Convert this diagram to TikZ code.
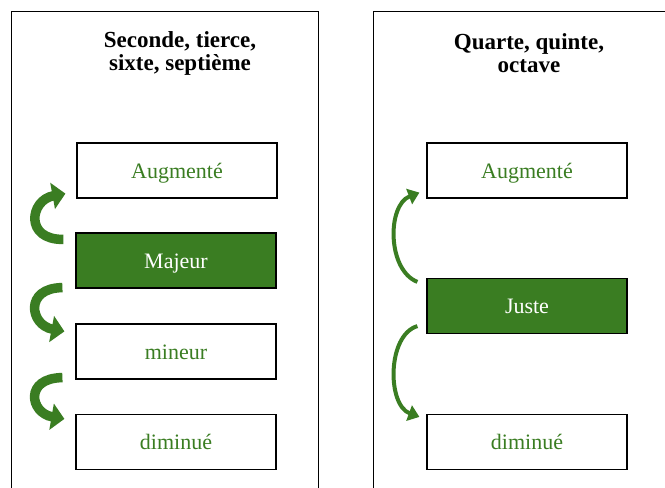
\documentclass[tikz,border=0pt]{standalone}
\usepackage{fontspec}
\setmainfont{Liberation Serif}
\usetikzlibrary{arrows.meta,calc}
\definecolor{vert}{HTML}{3A7D22}
\begin{document}
\begin{tikzpicture}[x=1pt,y=-1pt,
 box/.style={draw=black, line width=1.2pt, minimum width=200pt, minimum height=55pt, inner sep=0pt, text height=15pt, text depth=0pt, font=\fontsize{22}{22}\selectfont, text=vert, fill=white},
 hl/.style={box, fill=vert, text=white},
 panel/.style={draw=black, line width=1pt},
 titre/.style={font=\fontsize{23}{23}\selectfont\bfseries, align=center, inner sep=0pt},
 bigarrow/.style={draw=vert, line width=9.5pt, -{Triangle[width=26pt,length=13pt]}},
 thinarrow/.style={draw=vert, line width=4pt, -{Triangle[width=16pt,length=11pt]}}]
\useasboundingbox (0,0) rectangle (665,488);
\fill[white] (0,0) rectangle (665,488);
% panels
\draw[panel] (11,488) -- (11,11) -- (318,11) -- (318,488);
\draw[panel] (373,488) -- (373,11) -- (665,11);
% titles
\node[titre] (t1) at (180,53) {Seconde, tierce,\\sixte, septième};
\node[titre] (t2) at (529,53) {Quarte, quinte,\\octave};
% left boxes
\node[box] (aug1) at (177,170.5) {Augmenté};
\node[hl]  (maj)  at (176,260.5) {Majeur};
\node[box] (min)  at (176,351.5) {mineur};
\node[box] (dim1) at (176,442) {diminué};
% right boxes
\node[box] (aug2) at (527,170.5) {Augmenté};
\node[hl]  (jus)  at (527,306) {Juste};
\node[box] (dim2) at (527,442) {diminué};
% left arrows
\draw[bigarrow] ($(maj.north west)+(-12,7)$) .. controls (24,240) and (30,200) .. ($(aug1.south west)+(-11,-5)$);
\draw[bigarrow] ($(maj.south west)+(-13,-1)$) .. controls (24,288) and (30,325) .. ($(min.north west)+(-11,8)$);
\draw[bigarrow] ($(min.south west)+(-13,-2)$) .. controls (24,378) and (30,413) .. ($(dim1.north west)+(-11,5)$);
% right arrows
\draw[thinarrow] ($(jus.north west)+(-9,4)$) .. controls (387,270) and (387,205) .. ($(aug2.south west)+(-7,-6)$);
\draw[thinarrow] ($(jus.south west)+(-9,-8)$) .. controls (387,335) and (387,405) .. ($(dim2.north west)+(-7,3)$);
\end{tikzpicture}
\end{document}
